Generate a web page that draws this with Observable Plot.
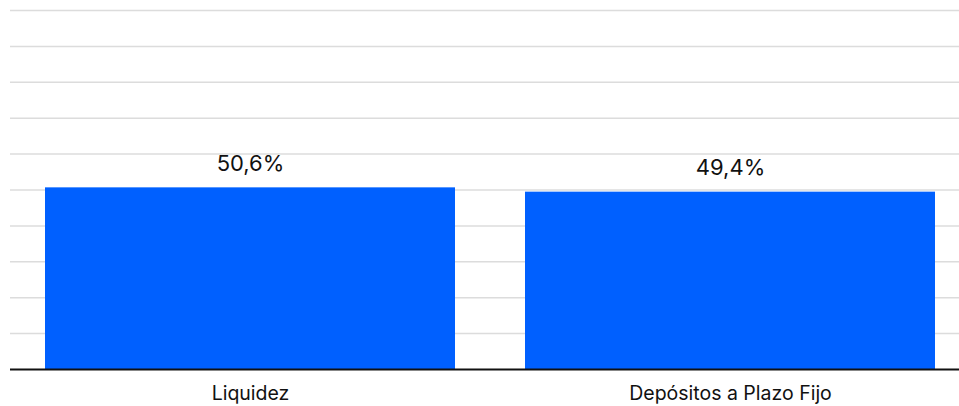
<!DOCTYPE html>
<html>
<head>
<meta charset="utf-8">
<script src="https://cdn.jsdelivr.net/npm/d3@7"></script>
<script src="https://cdn.jsdelivr.net/npm/@observablehq/plot@0.6"></script>
<style>
  html, body { margin: 0; padding: 0; background: #fff; }
  svg { display: block; }
</style>
</head>
<body>
<div id="chart"></div>
<script>
const categories = ["Liquidez", "Depósitos a Plazo Fijo"];
const values = [50.6, 49.4];
const valueLabels = ["50,6%", "49,4%"];
const yTicks = [0, 10, 20, 30, 40, 50, 60, 70, 80, 90, 100];

const data = categories.map((c, i) => ({category: c, value: values[i], label: valueLabels[i]}));

const chart = Plot.plot({
  width: 959,
  height: 406,
  marginLeft: 10,
  marginRight: 0,
  marginTop: 10,
  marginBottom: 37,
  style: {fontFamily: "Inter, 'Noto Sans', sans-serif", background: "#fff"},
  x: {domain: categories, range: [10, 971], paddingInner: 0.1455, paddingOuter: 0.0728, label: null},
  y: {domain: [0, 100], axis: null},
  marks: [
    Plot.ruleY(yTicks.slice(1), {stroke: "#dcdcdc", strokeWidth: 1.5}),
    Plot.barY(data, {x: "category", y: "value", fill: "#0060ff"}),
    Plot.ruleY([0], {stroke: "#111", strokeWidth: 2}),
    Plot.text(data, {x: "category", y: "value", text: "label", lineAnchor: "bottom", dy: -17, fontSize: 22, fill: "#111"}),
    Plot.axisX({tickSize: 0, tickPadding: 17, fontSize: 19.5, color: "#111", label: null})
  ]
});
document.getElementById("chart").append(chart);
</script>
</body>
</html>
